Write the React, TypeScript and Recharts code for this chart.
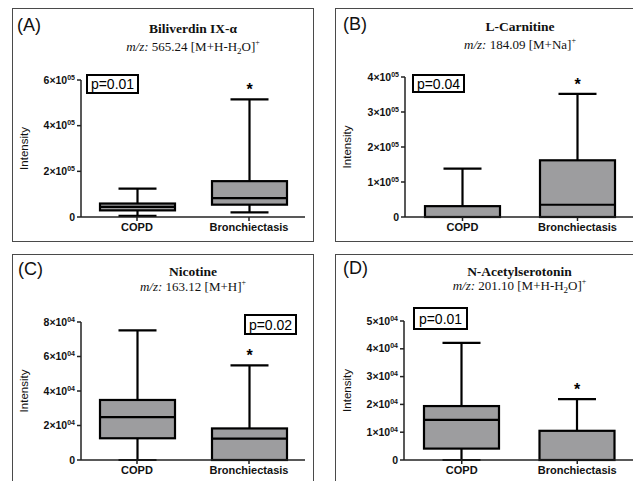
import React from 'react';
import { BarChart, Bar, XAxis, YAxis } from 'recharts';

const categories = ['COPD', 'Bronchiectasis'];
const starred = [false, true];

// Panel A: Biliverdin IX-α
const aMin = [5000, 20000];
const aQ1 = [29000, 54000];
const aMed = [44000, 83000];
const aQ3 = [59000, 157000];
const aMax = [124000, 515000];
const aTicks = [0, 200000, 400000, 600000];
const aTickLabels = ['0', '2×10', '4×10', '6×10'];

// Panel B: L-Carnitine
const bMin = [0, 0];
const bQ1 = [0, 0];
const bMed = [0, 35000];
const bQ3 = [31000, 162000];
const bMax = [138000, 352000];
const bTicks = [0, 100000, 200000, 300000, 400000];
const bTickLabels = ['0', '1×10', '2×10', '3×10', '4×10'];

// Panel C: Nicotine
const cMin = [0, 0];
const cQ1 = [12600, 0];
const cMed = [24900, 12400];
const cQ3 = [34800, 18300];
const cMax = [75100, 54800];
const cTicks = [0, 20000, 40000, 60000, 80000];
const cTickLabels = ['0', '2×10', '4×10', '6×10', '8×10'];

// Panel D: N-Acetylserotonin
const dMin = [0, 0];
const dQ1 = [4100, 0];
const dMed = [14400, 0];
const dQ3 = [19400, 10500];
const dMax = [42100, 21900];
const dTicks = [0, 10000, 20000, 30000, 40000, 50000];
const dTickLabels = ['0', '1×10', '2×10', '3×10', '4×10', '5×10'];

const SANS = '"Liberation Sans", Arial, sans-serif';
const SERIF = '"Liberation Serif", "Times New Roman", serif';

const build = (mn: number[], q1: number[], med: number[], q3: number[], mx: number[]) =>
  categories.map((name, i) => ({
    name,
    range: [mn[i], mx[i]],
    min: mn[i],
    q1: q1[i],
    med: med[i],
    q3: q3[i],
    max: mx[i],
    star: starred[i],
  }));

const BoxShape = (props: any) => {
  const { x, y, width, height, payload } = props;
  const lo = payload.min;
  const hi = payload.max;
  const py = (v: number) => y + (height * (hi - v)) / (hi - lo);
  const cx = x + width / 2;
  const capW = 38;
  const boxW = 75;
  const bx = cx - boxW / 2;
  const yMax = py(hi);
  const yMin = py(lo);
  const yQ1 = py(payload.q1);
  const yQ3 = py(payload.q3);
  const yMed = py(payload.med);
  const sw = 2.2;
  return (
    <g>
      <line x1={cx} x2={cx} y1={yMax} y2={yQ3} stroke="#000" strokeWidth={sw} />
      <line x1={cx} x2={cx} y1={yQ1} y2={yMin} stroke="#000" strokeWidth={sw} />
      <line x1={cx - capW / 2} x2={cx + capW / 2} y1={yMax} y2={yMax} stroke="#000" strokeWidth={sw} />
      <line x1={cx - capW / 2} x2={cx + capW / 2} y1={yMin} y2={yMin} stroke="#000" strokeWidth={sw} />
      <rect x={bx} y={yQ3} width={boxW} height={Math.max(0, yQ1 - yQ3)} fill="#9d9d9f" stroke="#000" strokeWidth={sw} />
      <line x1={bx} x2={bx + boxW} y1={yMed} y2={yMed} stroke="#000" strokeWidth={sw} />
      {payload.star && (
        <text x={cx} y={yMax - 4} textAnchor="middle" fontFamily={SANS} fontWeight="bold" fontSize={16} fill="#000">
          *
        </text>
      )}
    </g>
  );
};

const makeYTick = (ticks: number[], labels: string[], exp: string) => (props: any) => {
  const { x, y, payload } = props;
  const i = ticks.indexOf(payload.value);
  const label = i >= 0 ? labels[i] : '';
  return (
    <text x={x} y={y} dy={3.5} textAnchor="end" fontFamily={SANS} fontWeight="bold" fontSize={10.5} fill="#111">
      {label}
      {label !== '0' && (
        <tspan fontSize={7} dy={-4}>
          {exp}
        </tspan>
      )}
    </text>
  );
};

const XTick = (props: any) => {
  const { x, y, payload } = props;
  return (
    <text x={x} y={y} dy={8} textAnchor="middle" fontFamily={SANS} fontWeight="bold" fontSize={11} fill="#111">
      {payload.value}
    </text>
  );
};

type PanelProps = {
  left: number;
  top: number;
  width: number;
  height: number;
  chartW: number;
  chartH: number;
  plotTop: number;
  plotBottom: number;
  axisX: number;
  plotRight: number;
  data: any[];
  ticks: number[];
  tickLabels: string[];
  exp: string;
  letter: string;
  letterX: number;
  letterY: number;
  title: string;
  titleY: number;
  subtitle: React.ReactNode;
  subY: number;
  pText: string;
  pBox: [number, number, number, number];
};

const Panel = (p: PanelProps) => {
  const plotCx = (p.axisX + p.plotRight) / 2;
  const YT = makeYTick(p.ticks, p.tickLabels, p.exp);
  return (
    <div style={{ position: 'absolute', left: p.left, top: p.top, width: p.width, height: p.height }}>
      <div
        style={{
          position: 'absolute',
          left: 0,
          top: 0,
          width: p.width,
          height: p.height,
          border: '1px solid #4a4a4a',
          boxSizing: 'border-box',
        }}
      />
      <div style={{ position: 'absolute', left: 0, top: 0 }}>
        <BarChart
          width={p.chartW}
          height={p.chartH}
          data={p.data}
          margin={{ top: p.plotTop, right: p.chartW - p.plotRight, bottom: 0, left: 0 }}
          barSize={75}
        >
          <XAxis
            dataKey="name"
            height={p.chartH - p.plotBottom}
            axisLine={{ stroke: '#222', strokeWidth: 1.5 }}
            tickLine={{ stroke: '#222', strokeWidth: 1.5 }}
            tickSize={4}
            tick={<XTick />}
            interval={0}
          />
          <YAxis
            width={p.axisX}
            domain={[p.ticks[0], p.ticks[p.ticks.length - 1]]}
            ticks={p.ticks}
            axisLine={{ stroke: '#222', strokeWidth: 1.5 }}
            tickLine={{ stroke: '#222', strokeWidth: 1.5 }}
            tickSize={4}
            tick={<YT />}
            interval={0}
            label={{
              value: 'Intensity',
              angle: -90,
              position: 'insideLeft',
              offset: 12,
              style: { fontFamily: SANS, fontSize: 11.5, fill: '#111', textAnchor: 'middle' },
            }}
          />
          <Bar dataKey="range" isAnimationActive={false} shape={<BoxShape />} />
        </BarChart>
      </div>
      <svg
        width={p.width}
        height={p.height}
        style={{ position: 'absolute', left: 0, top: 0, pointerEvents: 'none', overflow: 'visible' }}
      >
        <text x={p.letterX} y={p.letterY} fontFamily={SANS} fontSize={18} fill="#111">
          {p.letter}
        </text>
        <text x={plotCx} y={p.titleY} textAnchor="middle" fontFamily={SERIF} fontWeight="bold" fontSize={13.5} fill="#111">
          {p.title}
        </text>
        <text x={plotCx} y={p.subY} textAnchor="middle" fontFamily={SERIF} fontSize={13} fill="#111">
          {p.subtitle}
        </text>
        <rect
          x={p.pBox[0]}
          y={p.pBox[1]}
          width={p.pBox[2]}
          height={p.pBox[3]}
          fill="#fff"
          stroke="#000"
          strokeWidth={2}
        />
        <text
          x={p.pBox[0] + p.pBox[2] / 2}
          y={p.pBox[1] + p.pBox[3] / 2 + 5}
          textAnchor="middle"
          fontFamily={SANS}
          fontSize={14}
          fill="#000"
        >
          {p.pText}
        </text>
      </svg>
    </div>
  );
};

const sub = (mass: string, ion: 'h2o' | 'na' | 'h') => (
  <>
    <tspan fontStyle="italic">m/z:</tspan>
    {' ' + mass + ' '}
    {ion === 'h2o' && (
      <>
        <tspan>[M+H-H</tspan>
        <tspan fontSize={9} dy={3}>
          2
        </tspan>
        <tspan dy={-3}>O]</tspan>
      </>
    )}
    {ion === 'na' && <tspan>[M+Na]</tspan>}
    {ion === 'h' && <tspan>[M+H]</tspan>}
    <tspan fontSize={8} dy={-6}>
      +
    </tspan>
  </>
);

export default function App() {
  return (
    <div
      style={{
        position: 'absolute',
        left: 0,
        top: 0,
        width: 633,
        height: 481,
        overflow: 'hidden',
        background: '#fff',
      }}
    >
      <Panel
        left={12}
        top={8}
        width={302}
        height={234}
        chartW={302}
        chartH={234}
        plotTop={72}
        plotBottom={209}
        axisX={69}
        plotRight={293}
        data={build(aMin, aQ1, aMed, aQ3, aMax)}
        ticks={aTicks}
        tickLabels={aTickLabels}
        exp="05"
        letter="(A)"
        letterX={5}
        letterY={23}
        title="Biliverdin IX-α"
        titleY={25}
        subtitle={sub('565.24', 'h2o')}
        subY={43}
        pText="p=0.01"
        pBox={[75, 67, 51, 18]}
      />
      <Panel
        left={335}
        top={8}
        width={310}
        height={234}
        chartW={310}
        chartH={234}
        plotTop={69}
        plotBottom={209}
        axisX={70}
        plotRight={300}
        data={build(bMin, bQ1, bMed, bQ3, bMax)}
        ticks={bTicks}
        tickLabels={bTickLabels}
        exp="05"
        letter="(B)"
        letterX={8}
        letterY={22}
        title="L-Carnitine"
        titleY={23}
        subtitle={sub('184.09', 'na')}
        subY={41}
        pText="p=0.04"
        pBox={[78, 67, 51, 17]}
      />
      <Panel
        left={12}
        top={254}
        width={302}
        height={240}
        chartW={302}
        chartH={240}
        plotTop={68}
        plotBottom={206}
        axisX={69}
        plotRight={293}
        data={build(cMin, cQ1, cMed, cQ3, cMax)}
        ticks={cTicks}
        tickLabels={cTickLabels}
        exp="04"
        letter="(C)"
        letterX={6}
        letterY={21}
        title="Nicotine"
        titleY={22}
        subtitle={sub('163.12', 'h')}
        subY={37}
        pText="p=0.02"
        pBox={[233, 61, 51, 19]}
      />
      <Panel
        left={335}
        top={254}
        width={310}
        height={240}
        chartW={310}
        chartH={240}
        plotTop={67}
        plotBottom={206}
        axisX={69}
        plotRight={300}
        data={build(dMin, dQ1, dMed, dQ3, dMax)}
        ticks={dTicks}
        tickLabels={dTickLabels}
        exp="04"
        letter="(D)"
        letterX={8}
        letterY={20}
        title="N-Acetylserotonin"
        titleY={22}
        subtitle={sub('201.10', 'h2o')}
        subY={36}
        pText="p=0.01"
        pBox={[79, 54, 53, 21]}
      />
    </div>
  );
}
